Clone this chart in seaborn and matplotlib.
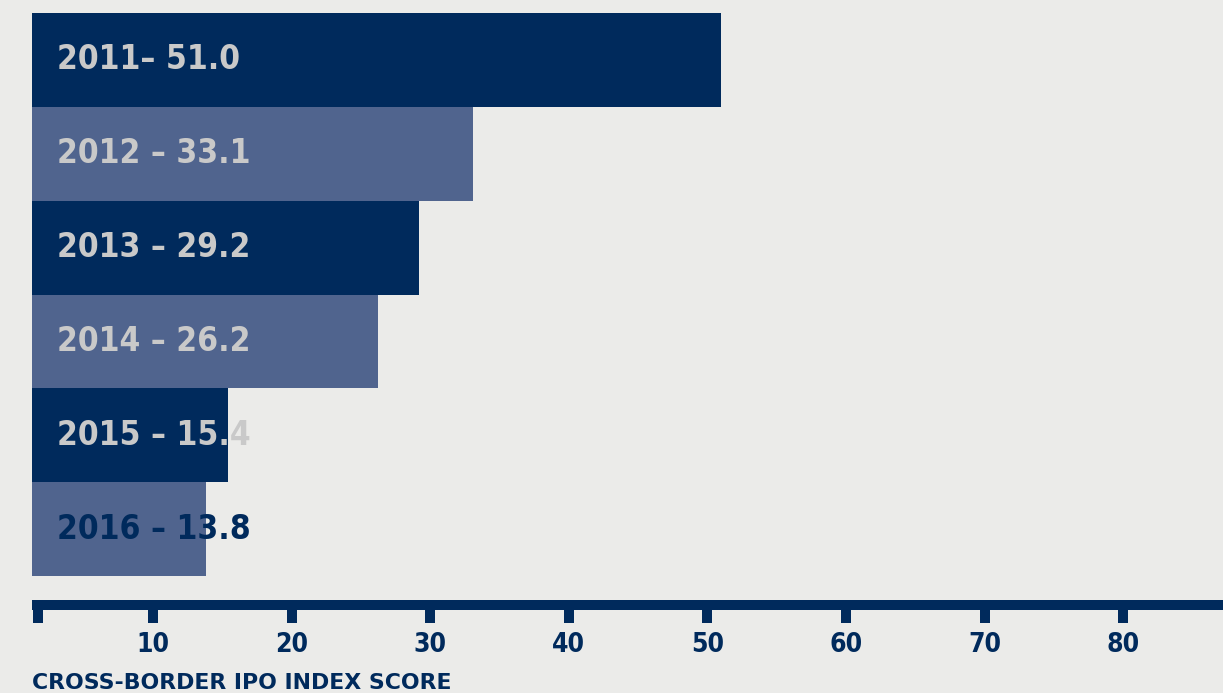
import matplotlib
matplotlib.use("Agg")
import matplotlib.pyplot as plt
from matplotlib import font_manager
from matplotlib.font_manager import FontProperties
import seaborn as sns
import pandas as pd

# Cross-border IPO index score by year
years = ["2011", "2012", "2013", "2014", "2015", "2016"]
scores = [51.0, 33.1, 29.2, 26.2, 15.4, 13.8]
separators = ["– ", " – ", " – ", " – ", " – ", " – "]
tick_values = [10, 20, 30, 40, 50, 60, 70, 80]
axis_title = "CROSS-BORDER IPO INDEX SCORE"

NAVY = "#002A5C"
SLATE = "#50648E"
BG = "#EBEBE9"
LIGHT_TEXT = "#C9C9C9"

bar_colors = [NAVY, SLATE, NAVY, SLATE, NAVY, SLATE]
text_colors = [LIGHT_TEXT, LIGHT_TEXT, LIGHT_TEXT, LIGHT_TEXT, LIGHT_TEXT, NAVY]

sns.set_theme(style="white")


def _weight(w):
    if isinstance(w, (int, float)):
        return float(w)
    return float(font_manager.weight_dict.get(str(w).lower(), 400))


# Find a bold condensed face for the figures
best = None
for f in font_manager.fontManager.ttflist:
    nm = f.name.lower()
    is_narrow = ("narrow" in nm or "condensed" in nm
                 or f.stretch in ("condensed", "semi-condensed", "extra-condensed"))
    if not is_narrow or f.style != "normal":
        continue
    score = abs(_weight(f.weight) - 700)
    if "semi" in nm:
        score += 50
    if best is None or score < best[0]:
        best = (score, f.fname)

if best is not None:
    def narrow_font(size):
        return FontProperties(fname=best[1], size=size)
    label_size, tick_size = 24, 19
else:
    def narrow_font(size):
        return FontProperties(family="Roboto", weight="bold", size=size)
    label_size, tick_size = 23, 18

W, H = 1223, 693
fig = plt.figure(figsize=(W / 100, H / 100), dpi=100, facecolor=BG)
ax = fig.add_axes([32 / W, 1 - 576 / H, 1 - 32 / W, (576 - 13) / H])
ax.set_facecolor(BG)

df = pd.DataFrame({"year": years, "score": scores})
sns.barplot(data=df, x="score", y="year", hue="year", palette=bar_colors,
            orient="h", width=1.0, saturation=1, legend=False, ax=ax,
            linewidth=0)

x_left, x_right = 1.27, 87.2
ax.set_xlim(x_left, x_right)
ax.set_ylim(len(years) - 0.5, -0.5)

# Value labels inside each bar
for i, (yr, sep, val) in enumerate(zip(years, separators, scores)):
    ax.annotate(f"{yr}{sep}{val:.1f}", xy=(x_left, i), xytext=(18, 0),
                textcoords="offset points", va="center", ha="left",
                color=text_colors[i], fontproperties=narrow_font(label_size))

# Axis styling: thick navy baseline with block ticks
for side in ["left", "top", "right"]:
    ax.spines[side].set_visible(False)
ax.spines["bottom"].set_position(("outward", 21))
ax.spines["bottom"].set_linewidth(7.2)
ax.spines["bottom"].set_color(NAVY)
ax.spines["bottom"].set_capstyle("butt")

ax.set_xticks([1.67] + tick_values)
ax.set_xticklabels([""] + [str(t) for t in tick_values])
ax.tick_params(axis="x", direction="out", length=13, width=7.2, color=NAVY,
               pad=6, labelcolor=NAVY, bottom=True)
for lbl in ax.get_xticklabels():
    lbl.set_fontproperties(narrow_font(tick_size))
ax.set_yticks([])
ax.set_xlabel("")
ax.set_ylabel("")

fig.text(32 / W, 1 - 689 / H, axis_title, ha="left", va="baseline",
         fontsize=15.8, fontweight="bold", color=NAVY, family="DejaVu Sans")

fig.savefig("out.png", dpi=100, facecolor=BG)
